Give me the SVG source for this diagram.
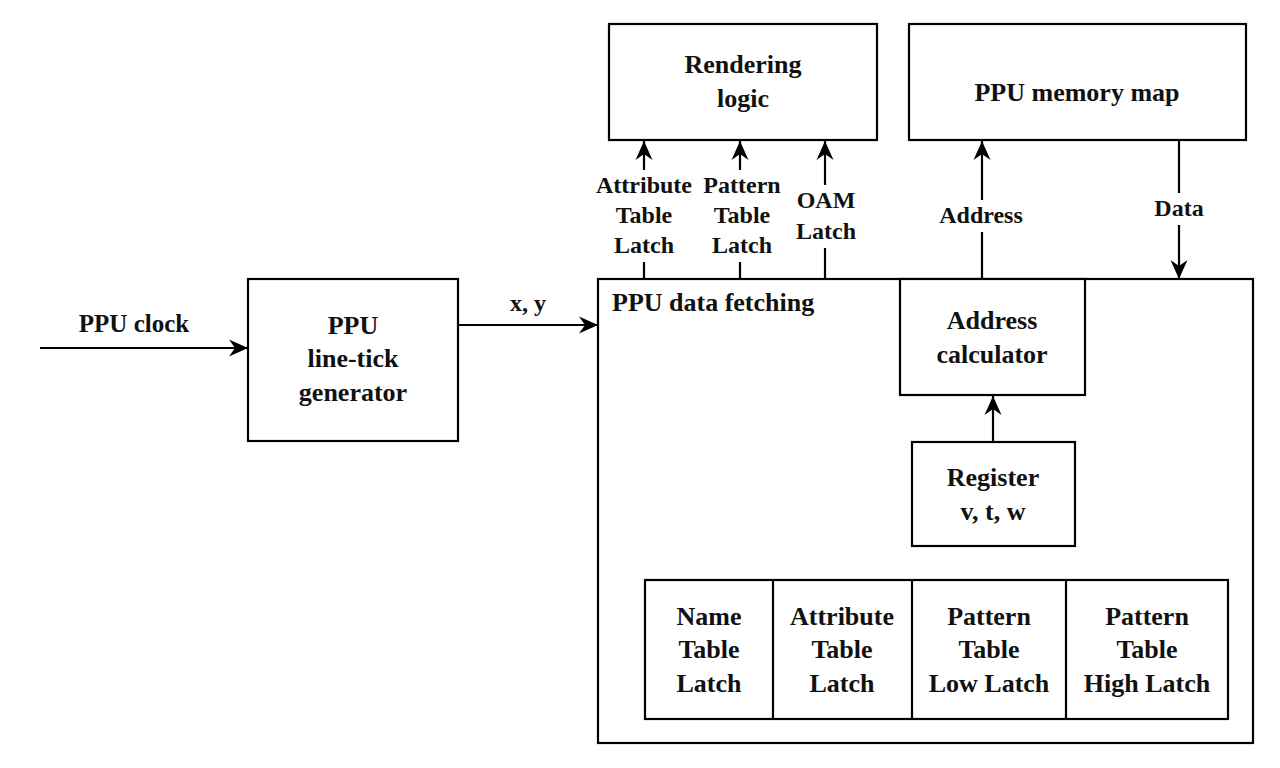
<svg xmlns="http://www.w3.org/2000/svg" width="1280" height="768" viewBox="0 0 1280 768">
<defs>
<style>
.box{fill:#fff;stroke:#000;stroke-width:2.2}
.ln{fill:none;stroke:#000;stroke-width:2.2}
text{font-family:"Liberation Serif","DejaVu Serif",serif;font-weight:bold;fill:#111}
.t{font-size:26px;text-anchor:middle}
.l{font-size:24px;text-anchor:middle}
</style>
<marker id="ah" viewBox="-19 -9 19 18" refX="0" refY="0" markerWidth="19" markerHeight="18" markerUnits="userSpaceOnUse" orient="auto">
<path d="M0,0 L-19,-8.5 L-13,0 L-19,8.5 Z" fill="#000"/>
</marker>
</defs>
<rect width="1280" height="768" fill="#fff"/>

<g id="rendering-logic">
<rect class="box" x="609" y="24" width="268" height="116"/>
<text class="t" x="743" y="73">Rendering</text>
<text class="t" x="743" y="107">logic</text>
</g>

<g id="ppu-memory-map">
<rect class="box" x="909" y="24" width="337" height="116"/>
<text class="t" x="1077" y="101">PPU memory map</text>
</g>

<g id="line-tick-generator">
<rect class="box" x="248" y="279" width="210" height="162"/>
<text class="t" x="353" y="334">PPU</text>
<text class="t" x="353" y="367">line-tick</text>
<text class="t" x="353" y="401">generator</text>
</g>

<g id="ppu-data-fetching">
<rect class="box" x="598" y="279" width="655" height="464"/>
<text x="612" y="311" style="font-size:26px">PPU data fetching</text>
</g>

<g id="address-calculator">
<rect class="box" x="900" y="279" width="185" height="116"/>
<text class="t" x="992" y="329">Address</text>
<text class="t" x="992" y="363">calculator</text>
</g>

<g id="register">
<rect class="box" x="912" y="442" width="163" height="104"/>
<text class="t" x="993" y="486">Register</text>
<text class="t" x="993" y="520">v, t, w</text>
</g>

<g id="latches">
<rect class="box" x="645" y="580" width="583" height="139"/>
<line class="ln" x1="773" y1="580" x2="773" y2="719"/>
<line class="ln" x1="912" y1="580" x2="912" y2="719"/>
<line class="ln" x1="1066" y1="580" x2="1066" y2="719"/>
<g id="name-table-latch">
<text class="t" x="709" y="625">Name</text>
<text class="t" x="709" y="658">Table</text>
<text class="t" x="709" y="692">Latch</text>
</g>
<g id="attribute-table-latch">
<text class="t" x="842" y="625">Attribute</text>
<text class="t" x="842" y="658">Table</text>
<text class="t" x="842" y="692">Latch</text>
</g>
<g id="pattern-table-low-latch">
<text class="t" x="989" y="625">Pattern</text>
<text class="t" x="989" y="658">Table</text>
<text class="t" x="989" y="692">Low Latch</text>
</g>
<g id="pattern-table-high-latch">
<text class="t" x="1147" y="625">Pattern</text>
<text class="t" x="1147" y="658">Table</text>
<text class="t" x="1147" y="692">High Latch</text>
</g>
</g>

<g id="connectors">
<line class="ln" x1="40" y1="348" x2="248" y2="348" marker-end="url(#ah)"/>
<text class="l" x="134" y="332" style="font-size:25px">PPU clock</text>

<line class="ln" x1="458" y1="325" x2="598" y2="325" marker-end="url(#ah)"/>
<text class="l" x="528" y="311">x, y</text>

<line class="ln" x1="644" y1="279" x2="644" y2="262"/>
<line class="ln" x1="644" y1="170" x2="644" y2="141" marker-end="url(#ah)"/>
<text class="l" x="644" y="193">Attribute</text>
<text class="l" x="644" y="223">Table</text>
<text class="l" x="644" y="253">Latch</text>

<line class="ln" x1="740" y1="279" x2="740" y2="262"/>
<line class="ln" x1="740" y1="170" x2="740" y2="141" marker-end="url(#ah)"/>
<text class="l" x="742" y="193">Pattern</text>
<text class="l" x="742" y="223">Table</text>
<text class="l" x="742" y="253">Latch</text>

<line class="ln" x1="825" y1="279" x2="825" y2="248"/>
<line class="ln" x1="825" y1="185" x2="825" y2="141" marker-end="url(#ah)"/>
<text class="l" x="826" y="208">OAM</text>
<text class="l" x="826" y="239">Latch</text>

<line class="ln" x1="982" y1="279" x2="982" y2="232"/>
<line class="ln" x1="982" y1="200" x2="982" y2="141" marker-end="url(#ah)"/>
<text class="l" x="981" y="223">Address</text>

<line class="ln" x1="1179" y1="140" x2="1179" y2="193"/>
<line class="ln" x1="1179" y1="225" x2="1179" y2="279" marker-end="url(#ah)"/>
<text class="l" x="1179" y="216">Data</text>

<line class="ln" x1="993" y1="442" x2="993" y2="396" marker-end="url(#ah)"/>
</g>
</svg>
